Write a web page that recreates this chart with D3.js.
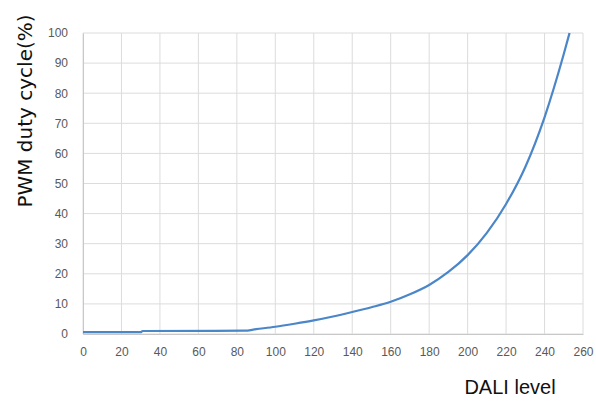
<!DOCTYPE html>
<html>
<head>
<meta charset="utf-8">
<script src="https://cdn.jsdelivr.net/npm/d3@7"></script>
<style>
  body { margin: 0; background: #fff; }
  svg { display: block; font-family: "Liberation Sans", Arial, sans-serif; }
</style>
</head>
<body>
<script>
// DALI level vs PWM duty cycle
const daliLevel = [0, 30, 31, 84, 90, 100, 110, 120, 130, 140, 150, 160, 170, 180, 190, 200, 210, 220, 230, 240, 250, 253];
const dutyCycle = [0.6, 0.6, 1.0, 1.1, 1.6, 2.4, 3.4, 4.5, 5.8, 7.3, 8.9, 10.7, 13.2, 16.3, 20.6, 26.2, 33.6, 43.2, 55.5, 72, 93, 100];
const xTicks = d3.range(0, 261, 20);
const yTicks = d3.range(0, 101, 10);

const width = 596, height = 403;
const margin = {top: 33, right: 13, bottom: 69, left: 83};
const innerWidth = width - margin.left - margin.right;
const innerHeight = height - margin.top - margin.bottom;

const svg = d3.select("body").append("svg").attr("width", width).attr("height", height);
const g = svg.append("g").attr("transform", "translate(" + margin.left + "," + margin.top + ")");

const xScale = d3.scaleLinear().domain([0, 260]).range([0, innerWidth]);
const yScale = d3.scaleLinear().domain([0, 100]).range([innerHeight, 0]);

// grid
g.append("g").selectAll("line").data(xTicks).join("line")
  .attr("x1", d => xScale(d)).attr("x2", d => xScale(d))
  .attr("y1", 0).attr("y2", innerHeight)
  .attr("stroke", "#dcdcdc").attr("stroke-width", 1);
g.append("g").selectAll("line").data(yTicks).join("line")
  .attr("x1", 0).attr("x2", innerWidth)
  .attr("y1", d => yScale(d)).attr("y2", d => yScale(d))
  .attr("stroke", "#dcdcdc").attr("stroke-width", 1);

// axes
const xAxis = g.append("g").attr("transform", "translate(0," + innerHeight + ")")
  .call(d3.axisBottom(xScale).tickValues(xTicks).tickSize(0).tickPadding(13));
const yAxis = g.append("g")
  .call(d3.axisLeft(yScale).tickValues(yTicks).tickSize(0).tickPadding(15));
[xAxis, yAxis].forEach(a => {
  a.select(".domain").attr("stroke", "#c8c8c8");
  a.selectAll("text").attr("fill", "#595959").style("font-size", "12px").style("font-family", "Liberation Sans, Arial, sans-serif");
});

// curve
const pts = daliLevel.map((d, i) => ({x: d, y: dutyCycle[i]}));
const valueline = d3.line().x(d => xScale(d.x)).y(d => yScale(d.y)).curve(d3.curveMonotoneX);
g.append("path").datum(pts)
  .attr("d", valueline)
  .attr("fill", "none")
  .attr("stroke", "#4a86c8")
  .attr("stroke-width", 2.2);

// titles
svg.append("text")
  .text("PWM duty cycle(%)")
  .attr("transform", "translate(32,111) rotate(-90)")
  .attr("text-anchor", "middle")
  .style("font-family", "DejaVu Sans, sans-serif")
  .style("font-size", "20px")
  .attr("fill", "#111");
svg.append("text")
  .text("DALI level")
  .attr("x", 510).attr("y", 394)
  .attr("text-anchor", "middle")
  .style("font-size", "20px")
  .attr("fill", "#111");
</script>
</body>
</html>
